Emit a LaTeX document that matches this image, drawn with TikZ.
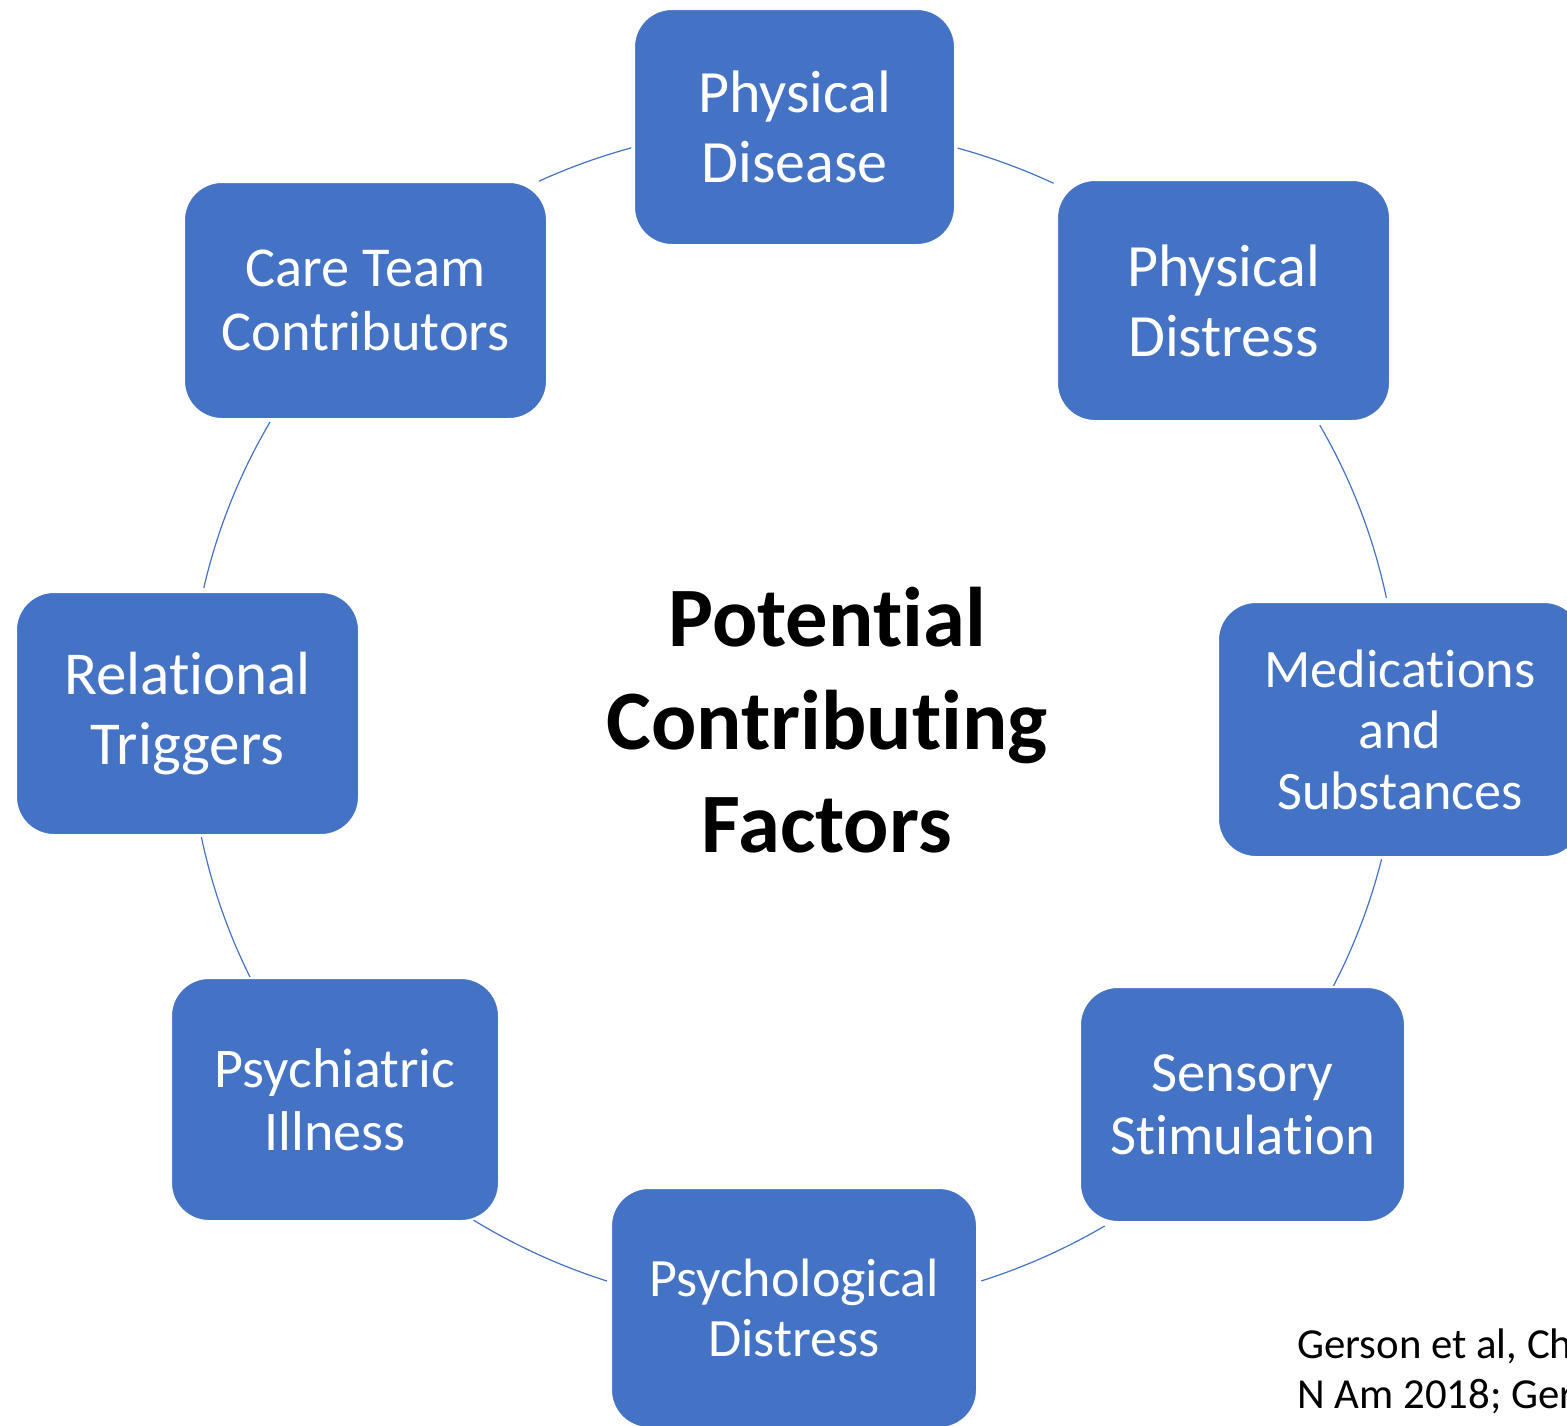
\documentclass[tikz,border=0pt]{standalone}
\usepackage{fontspec}
\setmainfont{Carlito}[Ligatures=NoCommon]
\usepackage{tikz}
\usetikzlibrary{shapes}
\definecolor{factorblue}{HTML}{4472C4}

\begin{document}
\begin{tikzpicture}[x=0.5pt,y=0.5pt]
            \tikzstyle{factor}=[rectangle,rounded corners=19pt,fill=factorblue,draw=white,line width=1pt,text=white,align=center,inner sep=0pt,font=\fontsize{30}{35}\selectfont]
            \tikzstyle{ring}=[draw=factorblue,line width=0.6pt]
            \useasboundingbox (0,0) rectangle (1567,-1425);
            \clip (0,0) rectangle (1567,-1425);
            \coordinate (c) at (794,-718);
            \foreach \a/\b in {74.3/64.6, 29.65/11.7, -13.8/-27.2, -59.1/-71.97, -108/-122, 206.1/191.6, 167.3/150, 114.95/105.6}
                \draw[ring] ([shift={(\a:302.5pt and 296pt)}]c) arc[start angle=\a,end angle=\b,x radius=302.5pt,y radius=296pt];
            \node[factor,minimum width=160.5pt,minimum height=118pt] (disease) at (794.5,-127) {Physical\\Disease};
            \node[factor,minimum width=166.5pt,minimum height=120.5pt] (distress) at (1223.5,-300.5) {Physical\\Distress};
            \node[factor,minimum width=182pt,minimum height=127.5pt,font=\fontsize{27.1}{30.5}\selectfont] (meds) at (1400,-729.5) {Medications\\and\\Substances};
            \node[factor,minimum width=162.5pt,minimum height=117.5pt,font=\fontsize{28.4}{31.5}\selectfont] (sensory) at (1242.5,-1104.5) {Sensory\\Stimulation};
            \node[factor,minimum width=183pt,minimum height=120pt,font=\fontsize{27}{30}\selectfont] (psycho) at (794,-1308) {Psychological\\Distress};
            \node[factor,minimum width=164pt,minimum height=121.5pt,font=\fontsize{28}{31.5}\selectfont] (psychiatric) at (335,-1099.5) {Psychiatric\\Illness};
            \node[factor,minimum width=171.5pt,minimum height=121.5pt,font=\fontsize{30.5}{35}\selectfont] (relational) at (187.5,-713.5) {Relational\\Triggers};
            \node[factor,minimum width=181.5pt,minimum height=118.5pt,font=\fontsize{28.2}{32}\selectfont] (careteam) at (365.5,-300.5) {Care Team\\Contributors};
            \node[align=center,font=\bfseries\fontsize{42.3}{51.5}\selectfont] (title) at (827,-720) {Potential\\Contributing\\Factors};
            \node[anchor=base west,inner sep=0pt,font=\fontsize{21.4}{25}\selectfont] (citeone) at (1297,-1358) {Gerson et al, Ch};
            \node[anchor=base west,inner sep=0pt,font=\fontsize{21.4}{25}\selectfont] (citetwo) at (1297,-1408) {N Am 2018; Ger};
\end{tikzpicture}
\end{document}
